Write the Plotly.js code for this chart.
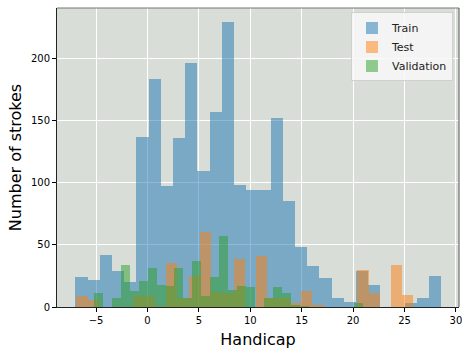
<!DOCTYPE html>
<html>
<head>
<meta charset="utf-8">
<script src="https://cdn.plot.ly/plotly-3.0.1.min.js"></script>
<style>html,body{margin:0;padding:0;background:#fff;}#chart{width:462px;height:349px;}</style>
</head>
<body>
<div id="chart"></div>
<script>
// Histogram counts (30 bins per series)
const seriesNames = ["Train", "Test", "Validation"];
const trainCounts = [24, 22, 42, 29, 20, 137, 183, 97, 136, 196, 109, 157, 229, 98, 94, 94, 152, 85, 48, 33, 23, 7, 4, 29, 18, 0, 0, 3, 7, 25];
const testCounts  = [9, 6, 0, 0, 0, 9, 9, 1, 35, 7, 25, 60, 12, 11, 39, 0, 41, 7, 7, 3, 13, 2, 0, 0, 0, 30, 11, 0, 34, 10];
const valCounts   = [11, 0, 7, 34, 13, 21, 31, 18, 17, 31, 7, 37, 9, 24, 57, 14, 17, 16, 0, 7, 16, 11, 2, 1, 0, 0, 0, 0, 0, 3];
// Bin edges: first edge and bin width of each series (handicap units)
const binStarts = [-7.02, -6.92, -5.23];
const binWidths = [1.187, 1.093, 0.873];
const xTicks = [-5, 0, 5, 10, 15, 20, 25, 30];
const yTicks = [0, 50, 100, 150, 200];

const colors = ["#1f77b4", "#ff7f0e", "#2ca02c"];
const allCounts = [trainCounts, testCounts, valCounts];

const traces = allCounts.map((counts, s) => ({
  type: "bar",
  name: seriesNames[s],
  x: counts.map((_, i) => binStarts[s] + (i + 0.5) * binWidths[s]),
  y: counts,
  width: binWidths[s],
  marker: { color: colors[s], line: { width: 0 } },
  opacity: 0.5,
  hoverinfo: "x+y+name"
}));

const font = { family: "DejaVu Sans, sans-serif", color: "#000" };

const layout = {
  width: 462, height: 349,
  margin: { l: 57, r: 3, t: 8, b: 42 },
  paper_bgcolor: "#ffffff",
  plot_bgcolor: "#d8ddd7",
  barmode: "overlay",
  bargap: 0,
  font: font,
  showlegend: true,
  legend: {
    x: 0.985, y: 0.985, xanchor: "right", yanchor: "top",
    bgcolor: "rgba(248,248,248,0.85)", bordercolor: "#d0d0d0", borderwidth: 1,
    font: { family: "DejaVu Sans, sans-serif", size: 11, color: "#222" },
    tracegroupgap: 0
  },
  xaxis: {
    range: [-8.8, 30.3],
    tickvals: xTicks,
    ticks: "outside", ticklen: 4, tickcolor: "#000", tickwidth: 1,
    ticklabeloverflow: "allow",
    tickfont: { family: "DejaVu Sans, sans-serif", size: 10, color: "#000" },
    showgrid: true, gridcolor: "#ffffff", gridwidth: 1,
    zeroline: false,
    showline: true, linecolor: "#222", linewidth: 1,
    title: { text: "Handicap", font: { family: "DejaVu Sans, sans-serif", size: 16, color: "#000" }, standoff: 8 }
  },
  yaxis: {
    range: [0, 240.45],
    tickvals: yTicks,
    ticks: "outside", ticklen: 4, tickcolor: "#000", tickwidth: 1,
    tickfont: { family: "DejaVu Sans, sans-serif", size: 10, color: "#000" },
    showgrid: true, gridcolor: "#ffffff", gridwidth: 1,
    zeroline: false,
    showline: true, linecolor: "#222", linewidth: 1,
    title: { text: "Number of strokes", font: { family: "DejaVu Sans, sans-serif", size: 16, color: "#000" }, standoff: 5 }
  },
  shapes: [
    { type: "line", xref: "paper", yref: "paper", x0: 0, x1: 1, y0: 1, y1: 1, line: { color: "#777", width: 1 } },
    { type: "line", xref: "paper", yref: "paper", x0: 1, x1: 1, y0: 0, y1: 1, line: { color: "#555", width: 1 } }
  ]
};

Plotly.newPlot("chart", traces, layout, { displayModeBar: false, staticPlot: true });
</script>
</body>
</html>
